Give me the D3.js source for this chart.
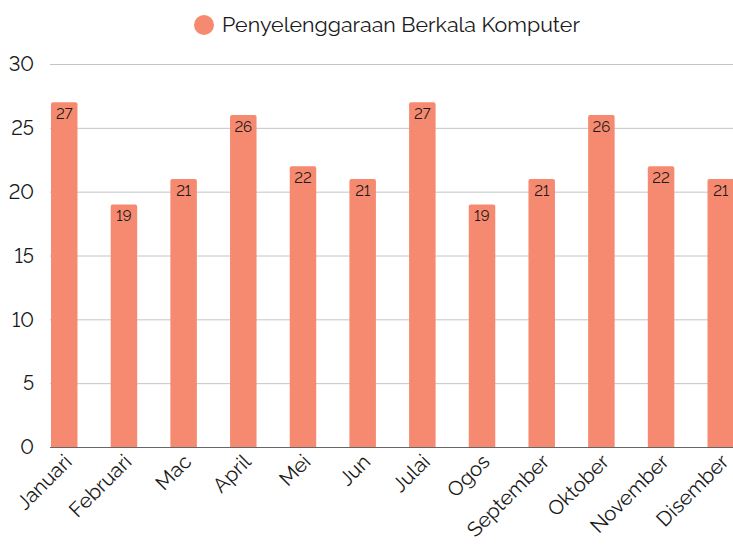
<!DOCTYPE html>
<html>
<head>
<meta charset="utf-8">
<script src="https://cdn.jsdelivr.net/npm/d3@7"></script>
<style>
  body { margin: 0; background: #fff; }
  svg text { font-family: "Raleway", Lato, "Open Sans", sans-serif; fill: #1a1a1a; }
</style>
</head>
<body>
<div id="chart"></div>
<script>
// chart data
const months = ["Januari", "Februari", "Mac", "April", "Mei", "Jun", "Julai", "Ogos", "September", "Oktober", "November", "Disember"];
const counts = [27, 19, 21, 26, 22, 21, 27, 19, 21, 26, 22, 21];
const yTicks = [0, 5, 10, 15, 20, 25, 30];
const seriesName = "Penyelenggaraan Berkala Komputer";

const width = 733, height = 549;
const barColor = "#f68a70";

const svg = d3.select("#chart").append("svg")
  .attr("width", width)
  .attr("height", height);

const x = d3.scaleBand()
  .domain(months)
  .range([51, 734])
  .paddingInner(0.556)
  .paddingOuter(0);

const y = d3.scaleLinear()
  .domain([0, 30])
  .range([447, 64]);

// gridlines
svg.append("g")
  .selectAll("line")
  .data(yTicks.filter(d => d > 0))
  .enter().append("line")
  .attr("x1", 50)
  .attr("x2", width)
  .attr("y1", d => y(d) + 0.5)
  .attr("y2", d => y(d) + 0.5)
  .attr("stroke", "#c4c4c4")
  .attr("stroke-width", 1);

// y labels
svg.append("g")
  .selectAll("text")
  .data(yTicks)
  .enter().append("text")
  .attr("x", 34)
  .attr("y", d => y(d))
  .attr("dy", "0.36em")
  .attr("text-anchor", "end")
  .style("font-size", "20px")
  .style("font-variant-numeric", "lining-nums")
  .text(d => d);

// bars with rounded top corners
const r = 2;
svg.append("g")
  .selectAll("path")
  .data(counts)
  .enter().append("path")
  .attr("fill", barColor)
  .attr("d", (d, i) => {
    const x0 = x(months[i]), w = x.bandwidth();
    const top = y(d), bot = y(0);
    return `M${x0},${bot} V${top + r} Q${x0},${top} ${x0 + r},${top} H${x0 + w - r} Q${x0 + w},${top} ${x0 + w},${top + r} V${bot} Z`;
  });

// baseline
svg.append("line")
  .attr("x1", 50)
  .attr("x2", width)
  .attr("y1", y(0) + 0.5)
  .attr("y2", y(0) + 0.5)
  .attr("stroke", "#666")
  .attr("stroke-width", 1);

// value labels
svg.append("g")
  .selectAll("text")
  .data(counts)
  .enter().append("text")
  .attr("x", (d, i) => x(months[i]) + x.bandwidth() / 2)
  .attr("y", d => y(d) + 17)
  .attr("text-anchor", "middle")
  .style("font-size", "15px")
  .style("font-variant-numeric", "lining-nums")
  .text(d => d);

// x labels
svg.append("g")
  .selectAll("text")
  .data(months)
  .enter().append("text")
  .attr("transform", d => `translate(${x(d) + x.bandwidth() / 2 + 9},${463}) rotate(-45)`)
  .attr("text-anchor", "end")
  .style("font-size", "20.5px")
  .text(d => d);

// legend
svg.append("circle")
  .attr("cx", 204)
  .attr("cy", 25)
  .attr("r", 10)
  .attr("fill", barColor);

svg.append("text")
  .attr("x", 222)
  .attr("y", 32)
  .style("font-size", "21.4px")
  .text(seriesName);
</script>
</body>
</html>
